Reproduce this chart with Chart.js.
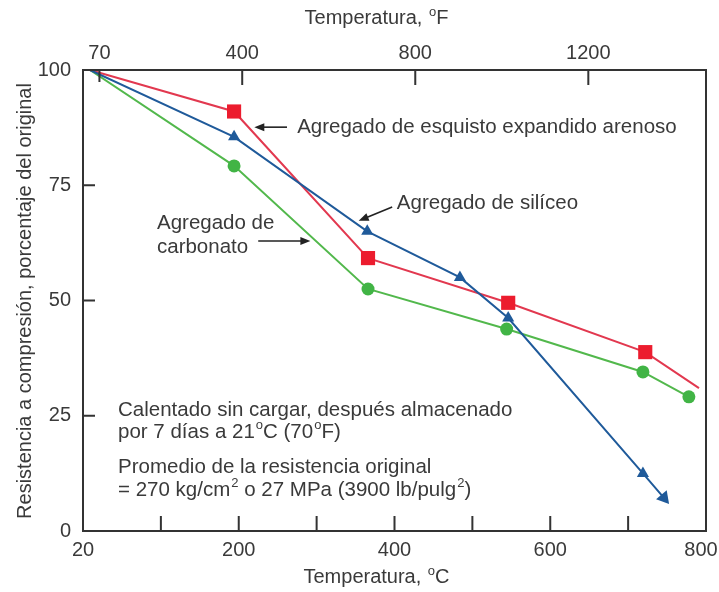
<!DOCTYPE html>
<html>
<head>
<meta charset="utf-8">
<script src="https://cdn.jsdelivr.net/npm/chart.js@4.4.0/dist/chart.umd.min.js"></script>
<style>
  body { margin: 0; background: #fff; }
  #wrap { width: 719px; height: 592px; }
</style>
</head>
<body>
<div id="wrap"><canvas id="myCanvas"></canvas></div>
<script>
// ticks
const celsiusTicks = [0, 100, 200, 300, 400, 500, 600, 700, 800];
const celsiusLabels = ['20', '', '200', '', '400', '', '600', '', '800'];
const fahrenheitTicks = [70, 400, 800, 1200];

// series (temperatura en oC, resistencia en %)
const tempSiliceo = [9, 194, 365, 484, 546, 719, 746];
const resSiliceo = [100, 85.5, 65, 55, 46.2, 12.5, 7.2];
const tempEsquisto = [9, 194, 366, 546, 722, 791];
const resEsquisto = [100, 91, 59.2, 49.5, 38.8, 31];
const tempCarbonato = [9, 194, 366, 544, 719, 778];
const resCarbonato = [100, 79.2, 52.5, 43.8, 34.5, 29.1];

function pts(xs, ys) {
  return xs.map((x, i) => ({ x: x, y: ys[i] }));
}

const FONT = "'Liberation Sans', Arial, sans-serif";
const TXT = '#3a3a3a';
const FS = 20;      // ejes
const FL = 20.5;    // rotulos dentro del grafico

// text with small raised "o" etc
function drawRich(ctx, parts, x, y, size, align) {
  ctx.save();
  ctx.textBaseline = 'middle';
  ctx.textAlign = 'left';
  ctx.fillStyle = TXT;
  let w = 0;
  parts.forEach(p => {
    ctx.font = (typeof p === 'string' ? size : Math.round(size * 0.65)) + 'px ' + FONT;
    w += ctx.measureText(typeof p === 'string' ? p : p.sup).width;
  });
  let cx = align === 'center' ? x - w / 2 : x;
  parts.forEach(p => {
    if (typeof p === 'string') {
      ctx.font = size + 'px ' + FONT;
      ctx.fillText(p, cx, y);
      cx += ctx.measureText(p).width;
    } else {
      ctx.font = Math.round(size * 0.65) + 'px ' + FONT;
      ctx.fillText(p.sup, cx + 1, y - size * 0.3);
      cx += ctx.measureText(p.sup).width + 1;
    }
  });
  ctx.restore();
}

function arrow(ctx, x1, y1, x2, y2) {
  const ang = Math.atan2(y2 - y1, x2 - x1);
  ctx.save();
  ctx.strokeStyle = '#222';
  ctx.fillStyle = '#222';
  ctx.lineWidth = 1.6;
  ctx.beginPath();
  ctx.moveTo(x1, y1);
  ctx.lineTo(x2 - 6 * Math.cos(ang), y2 - 6 * Math.sin(ang));
  ctx.stroke();
  ctx.translate(x2, y2);
  ctx.rotate(ang);
  ctx.beginPath();
  ctx.moveTo(0, 0);
  ctx.lineTo(-10, -4);
  ctx.lineTo(-10, 4);
  ctx.closePath();
  ctx.fill();
  ctx.restore();
}

const framePlugin = {
  id: 'frame',
  afterDatasetsDraw(chart) {
    const ctx = chart.ctx;
    const a = chart.chartArea;
    const sx = chart.scales.x, sx2 = chart.scales.x2, sy = chart.scales.y;
    ctx.save();
    ctx.strokeStyle = '#333';
    ctx.lineWidth = 2;
    ctx.strokeRect(a.left, a.top, a.right - a.left, a.bottom - a.top);
    ctx.beginPath();
    celsiusTicks.slice(1, -1).forEach(v => {
      const px = sx.getPixelForValue(v);
      ctx.moveTo(px, a.bottom);
      ctx.lineTo(px, a.bottom - 15);
    });
    fahrenheitTicks.forEach((v, i) => {
      const px = sx2.getPixelForValue(v);
      ctx.moveTo(px, a.top);
      ctx.lineTo(px, a.top + (i === 0 ? 12 : 15));
    });
    [25, 50, 75].forEach(v => {
      const py = sy.getPixelForValue(v);
      ctx.moveTo(a.left, py);
      ctx.lineTo(a.left + 12, py);
    });
    ctx.stroke();
    ctx.restore();

    const X = v => sx.getPixelForValue(v);
    const Y = v => sy.getPixelForValue(v);

    // axis titles
    drawRich(ctx, ['Temperatura, ', { sup: 'o' }, 'F'], 376, 18, FS, 'center');
    drawRich(ctx, ['Temperatura, ', { sup: 'o' }, 'C'], 376, 577, FS, 'center');
    ctx.save();
    ctx.translate(25, 301);
    ctx.rotate(-Math.PI / 2);
    drawRich(ctx, ['Resistencia a compresión, porcentaje del original'], 0, 0, FS, 'center');
    ctx.restore();

    // etiquetas de las curvas
    drawRich(ctx, ['Agregado de esquisto expandido arenoso'], X(275), Y(87.6), FL);
    arrow(ctx, X(262), Y(87.6), X(220), Y(87.6));
    drawRich(ctx, ['Agregado de silíceo'], X(403), Y(71), FL);
    arrow(ctx, X(397), Y(70.3), X(354), Y(67.3));
    drawRich(ctx, ['Agregado de'], X(95), Y(66.8), FL);
    drawRich(ctx, ['carbonato'], X(95), Y(61.6), FL);
    arrow(ctx, X(225), Y(62.9), X(292), Y(62.9));

    // notas
    drawRich(ctx, ['Calentado sin cargar, después almacenado'], X(45), Y(26.2), FL);
    drawRich(ctx, ['por 7 días a 21', { sup: 'o' }, 'C (70', { sup: 'o' }, 'F)'], X(45), Y(21.5), FL);
    drawRich(ctx, ['Promedio de la resistencia original'], X(45), Y(13.9), FL);
    drawRich(ctx, ['= 270 kg/cm', { sup: '2' }, ' o 27 MPa (3900 lb/pulg', { sup: '2' }, ')'], X(45), Y(8.9), FL);
  }
};

const tickFont = { family: FONT, size: FS };

const chrt = document.getElementById('myCanvas');
const myChart = new Chart(chrt, {
  type: 'line',
  data: {
    datasets: [
      {
        label: 'Agregado de silíceo',
        data: pts(tempSiliceo, resSiliceo),
        borderColor: '#1f5a9a',
        backgroundColor: '#1f5a9a',
        borderWidth: 2,
        pointStyle: 'triangle',
        pointRadius: [0, 7, 7, 7, 7, 7, 8],
        pointRotation: [0, 0, 0, 0, 0, 0, 140],
        pointBorderWidth: 0
      },
      {
        label: 'Agregado de esquisto expandido arenoso',
        data: pts(tempEsquisto, resEsquisto),
        borderColor: '#e2384f',
        backgroundColor: '#ec1c2e',
        borderWidth: 2,
        pointStyle: 'rect',
        pointRadius: [0, 10, 10, 10, 10, 0],
        pointBorderWidth: 0
      },
      {
        label: 'Agregado de carbonato',
        data: pts(tempCarbonato, resCarbonato),
        borderColor: '#52b84c',
        backgroundColor: '#41b445',
        borderWidth: 2,
        pointStyle: 'circle',
        pointRadius: [0, 6.5, 6.5, 6.5, 6.5, 6.5],
        pointBorderWidth: 0
      }
    ]
  },
  options: {
    responsive: true,
    maintainAspectRatio: false,
    animation: false,
    layout: { padding: { right: 13 } },
    elements: { line: { tension: 0 } },
    plugins: { legend: { display: false }, tooltip: { enabled: false } },
    scales: {
      x: {
        type: 'linear',
        position: 'bottom',
        min: 0,
        max: 800,
        afterBuildTicks: s => { s.ticks = celsiusTicks.map(v => ({ value: v })); },
        afterFit: s => { s.height = 61; s.paddingLeft = 0; s.paddingRight = 0; },
        grid: { display: false, drawTicks: false },
        border: { display: false },
        ticks: {
          autoSkip: false, maxRotation: 0, padding: 7, color: TXT, font: tickFont,
          // the last label sits against the right edge, nudge it in
          callback: (v, i) => i === celsiusLabels.length - 1 ? celsiusLabels[i] + '\u2002' : celsiusLabels[i]
        }
      },
      x2: {
        type: 'linear',
        position: 'top',
        min: 32,
        max: 1472,
        afterBuildTicks: s => { s.ticks = fahrenheitTicks.map(v => ({ value: v })); },
        afterFit: s => { s.height = 70; s.paddingLeft = 0; s.paddingRight = 0; },
        grid: { display: false, drawTicks: false },
        border: { display: false },
        ticks: {
          autoSkip: false, maxRotation: 0, padding: 5, color: TXT, font: tickFont,
          callback: v => String(v)
        }
      },
      y: {
        min: 0,
        max: 100,
        afterFit: s => { s.width = 83; s.paddingTop = 0; s.paddingBottom = 0; },
        grid: { display: false, drawTicks: false },
        border: { display: false },
        ticks: { stepSize: 25, padding: 12, color: TXT, font: tickFont }
      }
    }
  },
  plugins: [framePlugin]
});
</script>
</body>
</html>
